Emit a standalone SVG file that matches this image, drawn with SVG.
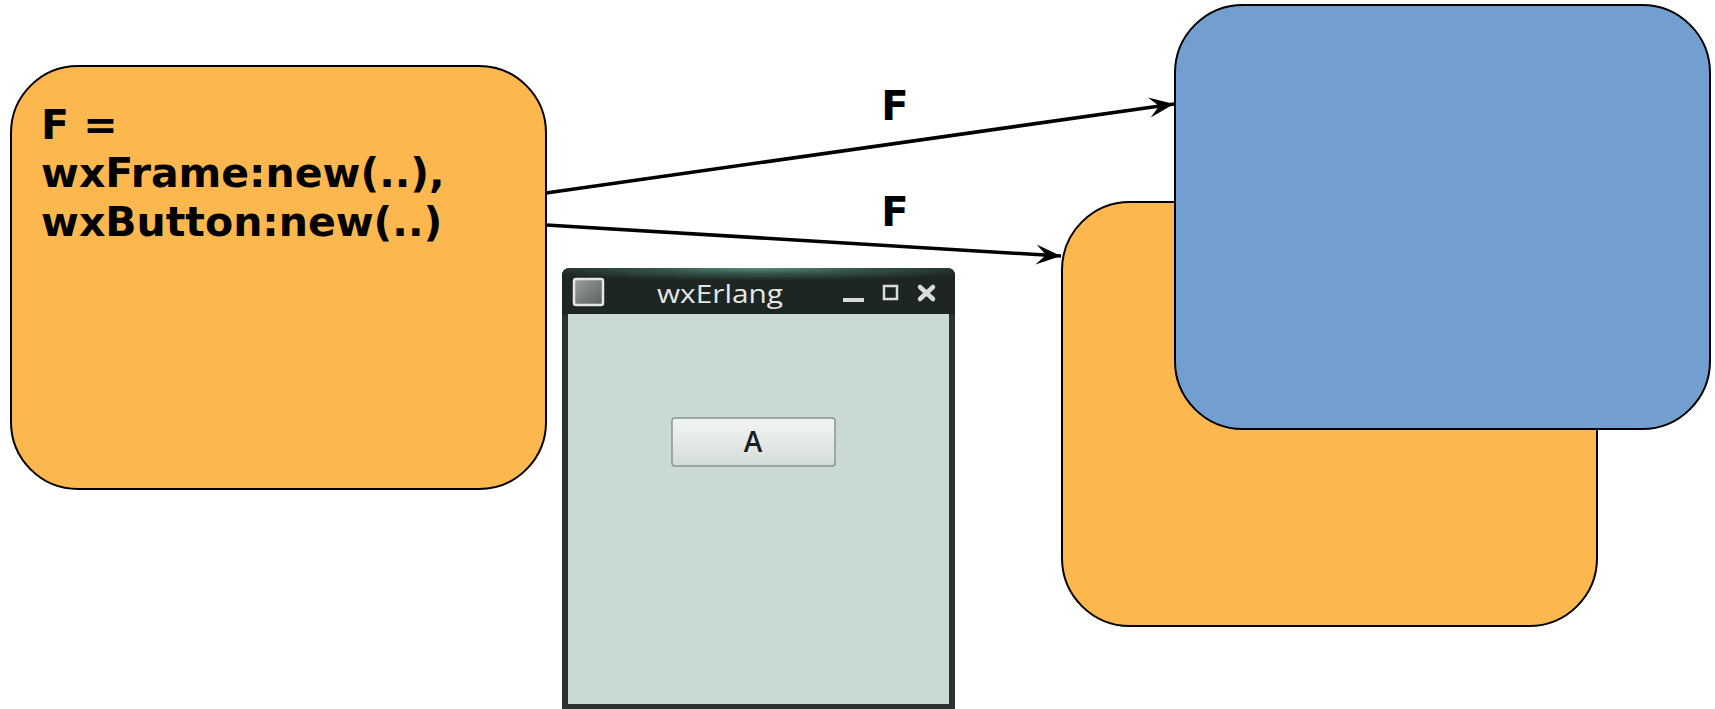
<svg xmlns="http://www.w3.org/2000/svg" width="1715" height="709" viewBox="0 0 1715 709">
<style>
.box{stroke:#000;stroke-width:2}
.orange{fill:#FCB74E}
.blue{fill:#729FCF}
.code{font-family:"DejaVu Sans",Verdana,sans-serif;font-weight:bold;font-size:41px;fill:#000}
.edge{fill:none;stroke:#000;stroke-width:3.5}
.lbl{font-family:"DejaVu Sans",Verdana,sans-serif;font-weight:bold;font-size:40px;fill:#000;text-anchor:middle}
.ui{font-family:"Open Sans","DejaVu Sans",sans-serif}
</style>
<defs>
<marker id="arrow" markerUnits="userSpaceOnUse" orient="auto" viewBox="-27 -11 28 22" refX="0" refY="0" markerWidth="28" markerHeight="22" overflow="visible">
<path d="M0,0 L-25,-10 L-15,0 L-25,10 Z" fill="#000"/>
</marker>
<radialGradient id="titleGlow" cx="0.5" cy="0" r="0.6" gradientTransform="translate(0.5 0) scale(1 0.45) translate(-0.5 0)">
<stop offset="0" stop-color="#5a8d7d"/>
<stop offset="0.45" stop-color="#34544a"/>
<stop offset="1" stop-color="#1e2624"/>
</radialGradient>
<linearGradient id="btnGrad" x1="0" y1="0" x2="0" y2="1">
<stop offset="0" stop-color="#f3f5f4"/>
<stop offset="1" stop-color="#d3dcda"/>
</linearGradient>
<linearGradient id="iconGrad" x1="0" y1="0" x2="1" y2="1">
<stop offset="0" stop-color="#9a9f9d"/>
<stop offset="1" stop-color="#5a605e"/>
</linearGradient>
</defs>

<g id="node-code">
<rect class="box orange" x="11" y="66" width="535" height="423" rx="67" ry="67"/>
<text class="code" x="41" y="138.5">F =</text>
<text class="code" x="41" y="187">wxFrame:new(..),</text>
<text class="code" x="41" y="235.5">wxButton:new(..)</text>
</g>

<g id="node-orange">
<rect class="box orange" x="1062" y="202" width="535" height="424" rx="68" ry="68"/>
</g>

<g id="node-blue">
<rect class="box blue" x="1175" y="5" width="535" height="424" rx="68" ry="68"/>
</g>

<g id="window">
<path d="M562,709 L562,276 Q562,268 570,268 L947,268 Q955,268 955,276 L955,709 Z" fill="#2d3331"/>
<path d="M562,315 L562,276 Q562,268 570,268 L947,268 Q955,268 955,276 L955,315 Z" fill="url(#titleGlow)"/>
<rect x="568" y="314" width="381" height="390" fill="#C9D9D4"/>
<rect x="574" y="279" width="29" height="26" rx="2" fill="url(#iconGrad)" stroke="#e2e6e4" stroke-width="2.5"/>
<text class="ui" x="720" y="303" font-size="25" fill="#e3e7e5" text-anchor="middle" textLength="126" lengthAdjust="spacingAndGlyphs">wxErlang</text>
<rect x="843" y="298" width="21" height="4" fill="#d8dcda"/>
<rect x="884" y="286" width="13" height="13" fill="none" stroke="#d8dcda" stroke-width="2.5"/>
<path d="M920,287 L933,299 M933,287 L920,299" stroke="#d8dcda" stroke-width="4.5" stroke-linecap="round"/>
<rect x="672" y="418" width="163" height="48" rx="3" fill="url(#btnGrad)" stroke="#8c9593" stroke-width="1.5"/>
<text class="ui" x="753" y="452" font-size="28" font-weight="600" fill="#1c1c1c" text-anchor="middle">A</text>
</g>

<g id="connectors">
<line class="edge" x1="546" y1="193" x2="1174" y2="104" marker-end="url(#arrow)"/>
<line class="edge" x1="546" y1="225" x2="1061" y2="256" marker-end="url(#arrow)"/>
<text class="lbl" x="895" y="120">F</text>
<text class="lbl" x="895" y="226">F</text>
</g>
</svg>
